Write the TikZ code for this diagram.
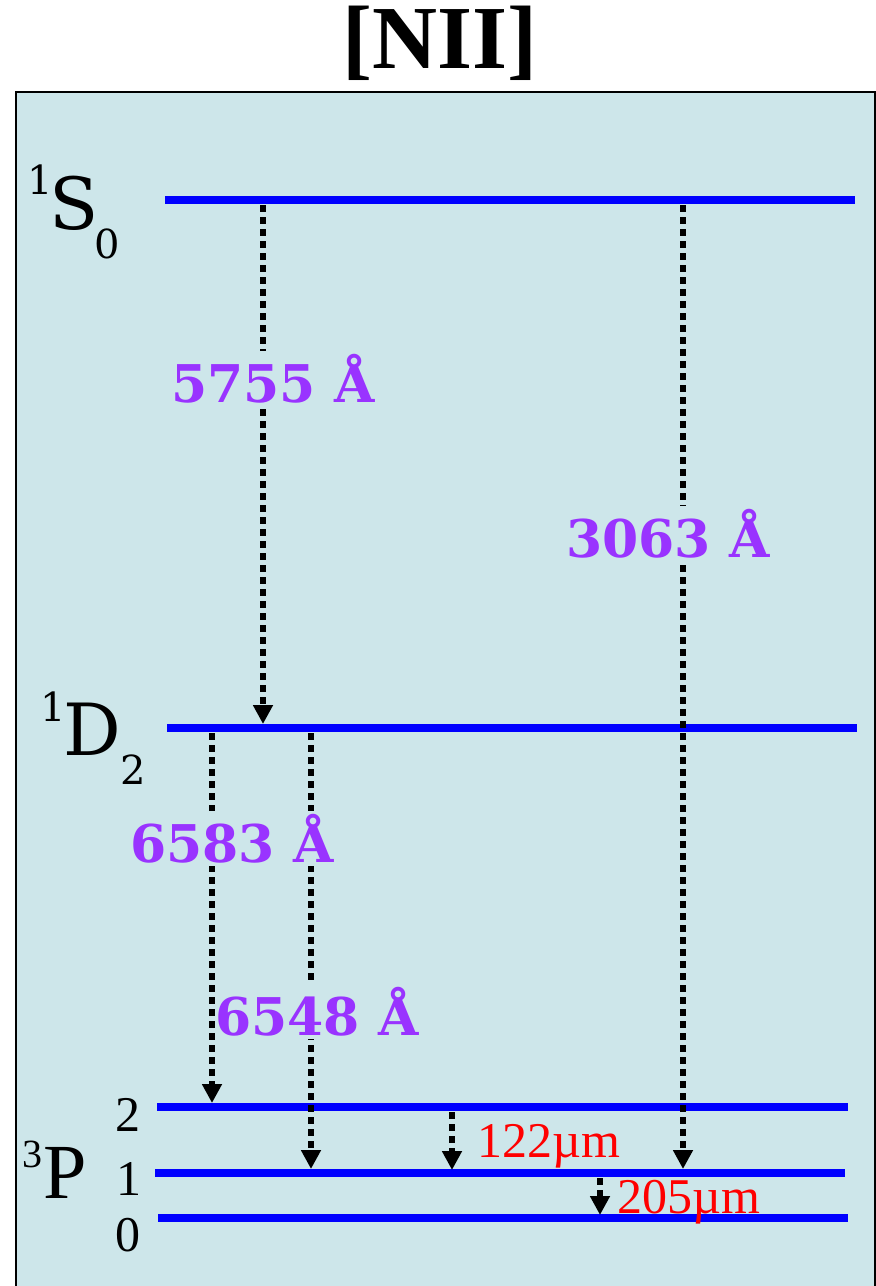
\documentclass[tikz,border=0pt]{standalone}
\usepackage{fontspec}
\usetikzlibrary{arrows.meta}
\newfontfamily\djs{DejaVu Serif}
\newfontfamily\lib{Liberation Serif}
\definecolor{bgc}{HTML}{CDE6EA}
\definecolor{lvl}{HTML}{0000FF}
\definecolor{wl}{HTML}{9933FF}
\tikzset{
  level/.style={draw=lvl, line width=8pt},
  trans/.style={draw=black, line width=6.5pt, dash pattern=on 6.5pt off 5.5pt,
    -{Triangle[length=19pt,width=19pt]}},
  wave/.style={font=\djs\bfseries\fontsize{52}{52}\selectfont, text=wl, fill=bgc,
    inner xsep=0pt, inner ysep=3pt, anchor=base},
  fir/.style={font=\lib\fontsize{50}{50}\selectfont, text=red, anchor=base west, inner sep=0pt},
  term/.style={font=\djs\fontsize{72}{72}\selectfont, anchor=base, inner sep=0pt},
  small/.style={font=\djs\fontsize{40}{40}\selectfont, anchor=base, inner sep=0pt},
  pterm/.style={font=\lib\fontsize{78}{78}\selectfont, anchor=base, inner sep=0pt},
  psmall/.style={font=\lib\fontsize{50}{50}\selectfont, anchor=base, inner sep=0pt},
}
\begin{document}
\begin{tikzpicture}[x=1pt,y=-1pt]
\useasboundingbox (0,0) rectangle (876,1286);
\clip (0,0) rectangle (876,1286);
% title
\node[font=\lib\bfseries\fontsize{90}{90}\selectfont, anchor=base] (title) at (440,68) {[NII]};
% panel
\draw[fill=bgc, draw=black, line width=1.8pt] (16,92) rectangle (875,1310);
% levels
\coordinate (S0L) at (165,200); \coordinate (S0R) at (855,200);
\coordinate (D2L) at (167,728); \coordinate (D2R) at (857,728);
\coordinate (P2L) at (157,1107); \coordinate (P2R) at (848,1107);
\coordinate (P1L) at (155,1173); \coordinate (P1R) at (845,1173);
\coordinate (P0L) at (158,1218); \coordinate (P0R) at (848,1218);
\draw[level] (S0L) -- (S0R);
\draw[level] (D2L) -- (D2R);
\draw[level] (P2L) -- (P2R);
\draw[level] (P1L) -- (P1R);
\draw[level] (P0L) -- (P0R);
% level labels
\node[small] (s1) at (40,194) {1};
\node[term] (sS) at (74,229) {S};
\node[small] (s0) at (107,258) {0};
\node[small] (d1) at (53,721) {1};
\node[term] (dD) at (92,755) {D};
\node[small] (d2) at (133,784) {2};
\node[font=\lib\fontsize{40}{40}\selectfont, anchor=base, inner sep=0pt] (p3) at (33,1167) {3};
\node[pterm] (pP) at (65,1198) {P};
\node[psmall] (pj2) at (128,1131) {2};
\node[psmall] (pj1) at (129,1195) {1};
\node[psmall] (pj0) at (128,1251) {0};
% transition end points
\coordinate (a1s) at (263,205); \coordinate (a1e) at (263,724);
\coordinate (a2s) at (683,205); \coordinate (a2e) at (683,1169);
\coordinate (a3s) at (212,733); \coordinate (a3e) at (212,1103);
\coordinate (a4s) at (311,733); \coordinate (a4e) at (311,1169);
\coordinate (a5s) at (452,1112); \coordinate (a5e) at (452,1170);
\coordinate (a6s) at (600,1178); \coordinate (a6e) at (600,1215);
\draw[trans] (a1s) -- (a1e);
\draw[trans] (a2s) -- (a2e);
\draw[trans] (a3s) -- (a3e);
\draw[trans] (a4s) -- (a4e);
\draw[trans] (a5s) -- (a5e);
\draw[trans] (a6s) -- (a6e);
% wavelength labels
\node[wave] (w5755) at (273,402) {5755 Å};
\node[wave] (w3063) at (668,557) {3063 Å};
\node[wave] (w6583) at (232,862) {6583 Å};
\node[wave] (w6548) at (317,1035) {6548 Å};
\node[fir] (f122) at (477,1157) {122µm};
\node[fir] (f205) at (617,1213) {205µm};
\end{tikzpicture}
\end{document}
